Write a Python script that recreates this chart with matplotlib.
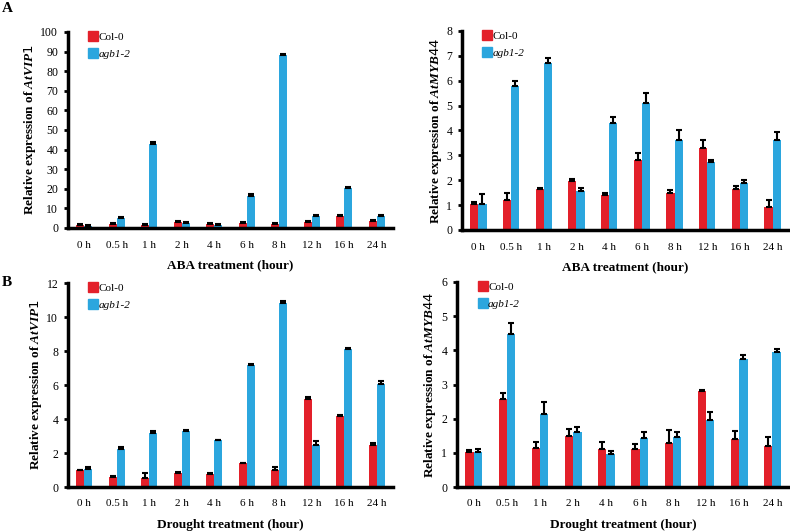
import matplotlib
matplotlib.use("Agg")
import matplotlib.pyplot as plt
import numpy as np
from matplotlib.lines import Line2D

plt.rcParams['font.family'] = ['Liberation Serif', 'DejaVu Serif']
plt.rcParams['mathtext.fontset'] = 'custom'
plt.rcParams['mathtext.it'] = 'Liberation Serif:italic:bold'
plt.rcParams['mathtext.bf'] = 'Liberation Serif:bold'

times = ["0 h", "0.5 h", "1 h", "2 h", "4 h", "6 h", "8 h", "12 h", "16 h", "24 h"]

# Panel A left: AtVIP1, ABA
a1_col = [1.5, 2.0, 1.5, 3.0, 2.0, 2.8, 2.0, 3.0, 6.0, 3.5]
a1_col_err = [0.6, 0.6, 0.6, 0.6, 0.5, 0.5, 0.4, 0.5, 0.4, 0.8]
a1_agb = [1.0, 5.0, 43.0, 2.5, 1.5, 16.5, 88.5, 6.0, 20.5, 6.2]
a1_agb_err = [0.5, 0.6, 0.8, 0.6, 0.5, 0.8, 0.3, 0.8, 0.6, 0.6]

# Panel A right: AtMYB44, ABA
a2_col = [1.05, 1.2, 1.65, 1.95, 1.4, 2.8, 1.5, 3.3, 1.65, 0.92]
a2_col_err = [0.08, 0.3, 0.02, 0.1, 0.1, 0.28, 0.1, 0.3, 0.1, 0.3]
a2_agb = [1.05, 5.8, 6.7, 1.55, 4.3, 5.1, 3.6, 2.75, 1.9, 3.6]
a2_agb_err = [0.4, 0.2, 0.2, 0.15, 0.25, 0.42, 0.4, 0.08, 0.1, 0.33]

# Panel B left: AtVIP1, drought
b1_col = [1.0, 0.6, 0.55, 0.82, 0.78, 1.4, 1.02, 5.15, 4.2, 2.45]
b1_col_err = [0.02, 0.05, 0.25, 0.05, 0.05, 0.02, 0.15, 0.15, 0.02, 0.15]
b1_agb = [1.05, 2.25, 3.2, 3.3, 2.75, 7.2, 10.85, 2.5, 8.1, 6.05]
b1_agb_err = [0.15, 0.08, 0.1, 0.05, 0.02, 0.05, 0.12, 0.2, 0.08, 0.2]

# Panel B right: AtMYB44, drought
b2_col = [1.02, 2.58, 1.15, 1.48, 1.12, 1.1, 1.3, 2.82, 1.4, 1.2]
b2_col_err = [0.05, 0.18, 0.17, 0.22, 0.2, 0.15, 0.37, 0.02, 0.25, 0.26]
b2_agb = [1.02, 4.47, 2.15, 1.6, 0.98, 1.42, 1.45, 1.95, 3.75, 3.95]
b2_agb_err = [0.1, 0.32, 0.35, 0.15, 0.08, 0.18, 0.17, 0.25, 0.1, 0.08]

RED = "#E3202A"
BLUE = "#2BA6DE"
W, H = 790, 532

fig = plt.figure(figsize=(W / 100, H / 100), dpi=100)


def rect(x0, x1, ytop, yzero):
    return [x0 / W, 1 - yzero / H, (x1 - x0) / W, (yzero - ytop) / H]


def panel(r, col, col_err, agb, agb_err, ymax, ystep, gene, xlabel, xlpad):
    ax = fig.add_axes(r)
    x = np.arange(len(times))
    bw = 0.25
    ax.bar(x - bw / 2, col, width=bw, color=RED, zorder=2)
    ax.bar(x + bw / 2, agb, width=bw, color=BLUE, zorder=2)
    ax.errorbar(x - bw / 2, col, yerr=[np.zeros(len(col)), col_err], fmt='none',
                ecolor='black', elinewidth=1.5, capsize=2.2, capthick=1.5, zorder=3)
    ax.errorbar(x + bw / 2, agb, yerr=[np.zeros(len(agb)), agb_err], fmt='none',
                ecolor='black', elinewidth=1.5, capsize=2.2, capthick=1.5, zorder=3)
    ax.set_xlim(-0.5, len(times) - 0.5)
    ax.set_ylim(0, ymax)
    ax.set_yticks(np.arange(0, ymax + ystep / 2, ystep))
    ax.set_xticks(x)
    ax.set_xticklabels(times, fontsize=8)
    ax.tick_params(axis='x', length=0, pad=9)
    ax.tick_params(axis='y', length=3, width=2, direction='out', labelsize=8.5, pad=4)
    for s in ['top', 'right']:
        ax.spines[s].set_visible(False)
    for s in ['left', 'bottom']:
        ax.spines[s].set_linewidth(2.5)
    ax.set_ylabel("Relative expression of $\\mathbf{\\mathit{" + gene + "}}$",
                  fontsize=9.5, fontweight='bold', labelpad=2)
    ax.set_xlabel(xlabel, fontsize=9.5, fontweight='bold', labelpad=xlpad)
    handles = [Line2D([], [], marker='s', linestyle='none', markersize=6.5,
                      markerfacecolor=RED, markeredgecolor=RED),
               Line2D([], [], marker='s', linestyle='none', markersize=6.5,
                      markerfacecolor=BLUE, markeredgecolor=BLUE)]
    leg = ax.legend(handles, ["Col-0", "agb1-2"], loc='upper left',
                    bbox_to_anchor=(0.03, 1.05), frameon=False, fontsize=8,
                    handletextpad=0.0, handlelength=1.0, labelspacing=0.65)
    leg.get_texts()[1].set_fontstyle('italic')
    return ax


panel(rect(68, 393, 32, 228), a1_col, a1_col_err, a1_agb, a1_agb_err, 100, 10,
      "AtVIP1", "ABA treatment (hour)", 7)
panel(rect(462, 789, 31, 230), a2_col, a2_col_err, a2_agb, a2_agb_err, 8, 1,
      "AtMYB44", "ABA treatment (hour)", 7)
panel(rect(68, 393, 283, 487), b1_col, b1_col_err, b1_agb, b1_agb_err, 12, 2,
      "AtVIP1", "Drought treatment (hour)", 7.5)
panel(rect(457, 789, 282, 487), b2_col, b2_col_err, b2_agb, b2_agb_err, 6, 1,
      "AtMYB44", "Drought treatment (hour)", 7.5)

fig.text(2 / W, 1 - 8 / H, "A", fontsize=11, fontweight='bold', va='center', ha='left')
fig.text(2 / W, 1 - 283 / H, "B", fontsize=11, fontweight='bold', va='center', ha='left')

fig.savefig("out.png", dpi=100)
